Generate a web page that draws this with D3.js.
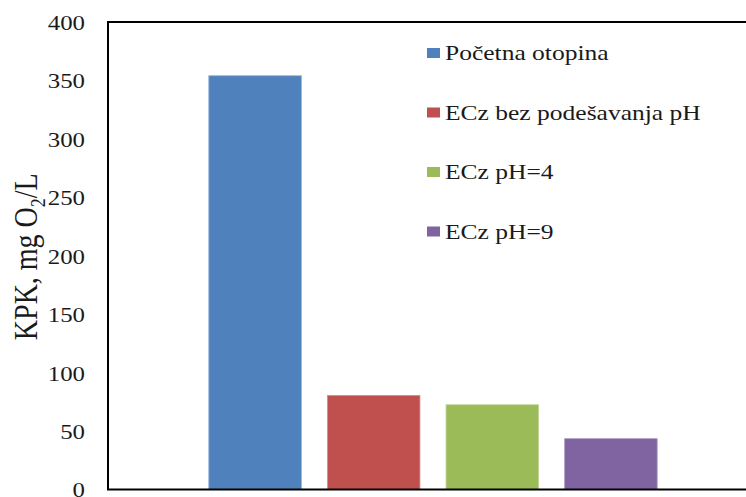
<!DOCTYPE html>
<html>
<head>
<meta charset="utf-8">
<script src="https://cdn.jsdelivr.net/npm/d3@7"></script>
<style>
  html, body { margin: 0; padding: 0; background: #fff; }
  svg { display: block; }
  text { font-family: "Liberation Serif", "Times New Roman", serif; fill: #1a1a1a; }
</style>
</head>
<body>
<svg id="chart" width="746" height="497"></svg>
<script>
// COD (KPK) per treatment
const series = ["Početna otopina", "ECz bez podešavanja pH", "ECz pH=4", "ECz pH=9"];
const values = [354, 80.5, 72.5, 43.5];
const colors = ["#4F81BD", "#C0504D", "#9BBB59", "#8064A2"];
const yTicks = [0, 50, 100, 150, 200, 250, 300, 350, 400];

const svg = d3.select("#chart");
const plot = { left: 108, top: 22, right: 758, bottom: 489.5 };
const wide = 1.13;       // horizontal stretch of the tick labels
const legendWide = 1.16; // horizontal stretch of the legend labels

const y = d3.scaleLinear().domain([0, 400]).range([plot.bottom, plot.top]);
const x = d3.scaleBand().domain(series)
  .range([plot.left, plot.right])
  .paddingInner(0.22)
  .paddingOuter(0.85);

// bars
svg.append("g").selectAll("rect")
  .data(series)
  .join("rect")
  .attr("x", d => x(d))
  .attr("width", x.bandwidth())
  .attr("y", (d, i) => y(values[i]))
  .attr("height", (d, i) => y(0) - y(values[i]))
  .attr("fill", (d, i) => colors[i])
  .attr("stroke", (d, i) => d3.interpolateRgb(colors[i], "#fff")(0.35))
  .attr("stroke-width", 0.8);

// frame of the plot area (right side runs past the page edge)
svg.append("rect")
  .attr("x", plot.left).attr("y", plot.top)
  .attr("width", plot.right - plot.left).attr("height", plot.bottom - plot.top)
  .attr("fill", "none").attr("stroke", "#000").attr("stroke-width", 2);

// y axis labels
const yAxis = d3.axisLeft(y).tickValues(yTicks).tickSize(0).tickPadding(0).tickFormat(d3.format("d"));
const gy = svg.append("g").attr("transform", `translate(${plot.left},0)`).call(yAxis);
gy.select(".domain").remove();
gy.selectAll("text")
  .attr("x", -23 / wide)
  .attr("dy", "0.34em")
  .attr("transform", `scale(${wide},1)`)
  .style("font-family", '"Liberation Serif", serif')
  .style("font-size", "22px")
  .attr("fill", "#1a1a1a");

// y axis title
const title = svg.append("text")
  .attr("transform", `translate(37,${(plot.top + plot.bottom) / 2 + 1}) scale(1.2,1) rotate(-90)`)
  .attr("text-anchor", "middle")
  .style("font-size", "28px");
title.append("tspan").text("KPK, mg O");
title.append("tspan").text("2").style("font-size", "18px").attr("dy", 7);
title.append("tspan").text("/L").attr("dy", -7);

// legend
const legend = svg.append("g").selectAll("g")
  .data(series)
  .join("g")
  .attr("transform", (d, i) => `translate(427,${53 + i * 59.5})`);
legend.append("rect")
  .attr("x", 0).attr("y", -5)
  .attr("width", 13).attr("height", 10)
  .attr("fill", (d, i) => colors[i]);
legend.append("text")
  .attr("transform", `translate(18,0) scale(${legendWide},1)`)
  .attr("dy", "0.34em")
  .style("font-size", "22px")
  .text(d => d);
</script>
</body>
</html>
